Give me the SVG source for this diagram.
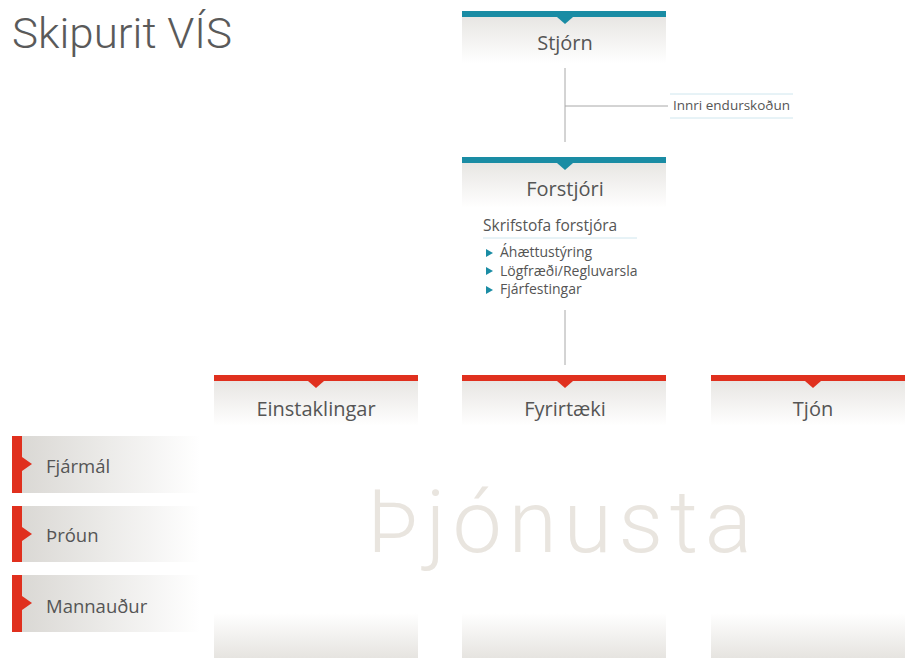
<svg xmlns="http://www.w3.org/2000/svg" width="905" height="658" viewBox="0 0 905 658">
<defs>
<linearGradient id="hdr" x1="0" y1="0" x2="0" y2="1">
<stop offset="0" stop-color="#e8e6e3"/>
<stop offset="1" stop-color="#ffffff"/>
</linearGradient>
<linearGradient id="foot" x1="0" y1="0" x2="0" y2="1">
<stop offset="0" stop-color="#ffffff"/>
<stop offset="1" stop-color="#e6e4e0"/>
</linearGradient>
<linearGradient id="row" x1="0" y1="0" x2="1" y2="0">
<stop offset="0" stop-color="#d8d6d2"/>
<stop offset="1" stop-color="#ffffff"/>
</linearGradient>
<style>
text{font-family:"Open Sans","Noto Sans","Liberation Sans",sans-serif;fill:#555555}
.t{font-size:20px;text-anchor:middle}
.teal{fill:#1a8ca4}
.red{fill:#e0301e}
.ln{stroke:#a8a8a8;stroke-width:1;fill:none}
.bl{stroke:#cfe6ee;stroke-width:1}
.s{font-size:14px}
.r{font-size:18.5px}
</style>
</defs>
<rect width="905" height="658" fill="#ffffff"/>
<text x="12" y="48" textLength="220" lengthAdjust="spacingAndGlyphs" style="font-size:42px;fill:#5a5a5a;font-family:Roboto,'Open Sans',sans-serif;font-weight:300">Skipurit VÍS</text>
<text x="367" y="552" textLength="385" lengthAdjust="spacing" style="font-size:88px;fill:#e9e5df;font-family:Roboto,'Open Sans',sans-serif;font-weight:300">Þjónusta</text>
<g id="connectors">
<line class="ln" x1="565" y1="68" x2="565" y2="142"/>
<line class="ln" x1="565" y1="106" x2="668" y2="106"/>
<line class="ln" x1="565" y1="310" x2="565" y2="365"/>
</g>
<g id="stjorn">
<rect x="462" y="17" width="204" height="46" fill="url(#hdr)"/>
<rect class="teal" x="462" y="11" width="204" height="6"/>
<polygon class="teal" points="557,17 573,17 565,24"/>
<text class="t" x="565" y="50">Stjórn</text>
</g>
<g id="innri">
<line class="bl" x1="670" y1="94" x2="793" y2="94"/>
<line class="bl" x1="670" y1="118" x2="793" y2="118"/>
<text x="673" y="110" style="font-size:13.5px">Innri endurskoðun</text>
</g>
<g id="forstjori">
<rect x="462" y="163" width="204" height="45" fill="url(#hdr)"/>
<rect class="teal" x="462" y="157" width="204" height="6"/>
<polygon class="teal" points="557,163 573,163 565,170"/>
<text class="t" x="565" y="196">Forstjóri</text>
</g>
<g id="skrifstofa">
<text x="483" y="231" style="font-size:15.5px">Skrifstofa forstjóra</text>
<line class="bl" x1="483" y1="238" x2="637" y2="238"/>
<polygon class="teal" points="486,249 493,253 486,257"/>
<text class="s" x="500" y="257">Áhættustýring</text>
<polygon class="teal" points="486,267 493,271 486,275"/>
<text class="s" x="500" y="276">Lögfræði/Regluvarsla</text>
<polygon class="teal" points="486,286 493,290 486,294"/>
<text class="s" x="500" y="294">Fjárfestingar</text>
</g>
<g id="einstaklingar">
<rect x="214" y="381" width="204" height="45" fill="url(#hdr)"/>
<rect x="214" y="613" width="204" height="45" fill="url(#foot)"/>
<rect class="red" x="214" y="375" width="204" height="6"/>
<polygon class="red" points="308,381 324,381 316,388"/>
<text class="t" x="316" y="416">Einstaklingar</text>
</g>
<g id="fyrirtaeki">
<rect x="462" y="381" width="204" height="45" fill="url(#hdr)"/>
<rect x="462" y="613" width="204" height="45" fill="url(#foot)"/>
<rect class="red" x="462" y="375" width="204" height="6"/>
<polygon class="red" points="557,381 573,381 565,388"/>
<text class="t" x="565" y="416">Fyrirtæki</text>
</g>
<g id="tjon">
<rect x="711" y="381" width="194" height="45" fill="url(#hdr)"/>
<rect x="711" y="613" width="194" height="45" fill="url(#foot)"/>
<rect class="red" x="711" y="375" width="194" height="6"/>
<polygon class="red" points="805,381 821,381 813,388"/>
<text class="t" x="813" y="416">Tjón</text>
</g>
<g id="fjarmal">
<rect x="12" y="436" width="188" height="57" fill="url(#row)"/>
<rect class="red" x="12" y="436" width="10" height="57"/>
<polygon class="red" points="22,457 32,464 22,471"/>
<text class="r" x="46" y="473">Fjármál</text>
</g>
<g id="throun">
<rect x="12" y="506" width="188" height="56" fill="url(#row)"/>
<rect class="red" x="12" y="506" width="10" height="56"/>
<polygon class="red" points="22,527 32,534 22,541"/>
<text class="r" x="46" y="542">Þróun</text>
</g>
<g id="mannaudur">
<rect x="12" y="575" width="188" height="57" fill="url(#row)"/>
<rect class="red" x="12" y="575" width="10" height="57"/>
<polygon class="red" points="22,596 32,603 22,610"/>
<text class="r" x="46" y="613">Mannauður</text>
</g>
</svg>
